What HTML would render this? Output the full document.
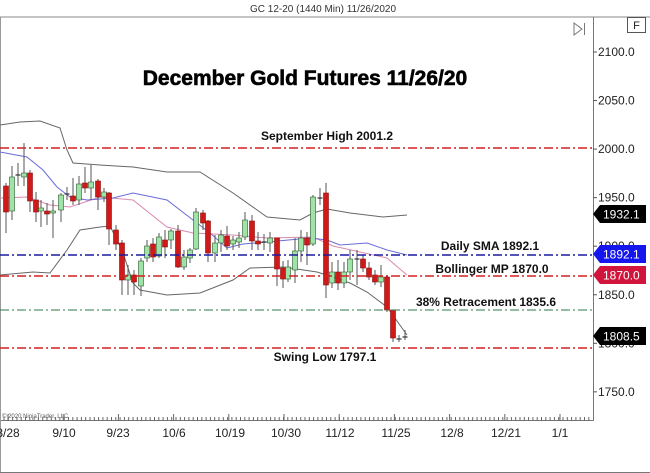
<!DOCTYPE html>
<html><head><meta charset="utf-8"><style>
html,body{margin:0;padding:0;background:#fff;}
svg{display:block;font-family:"Liberation Sans",Arial,sans-serif;}
</style></head><body>
<svg id="s" width="650" height="473" viewBox="0 0 650 473" xmlns="http://www.w3.org/2000/svg">
<rect x="0" y="0" width="650" height="473" fill="#fff"/>
<text x="323" y="12" font-size="10" text-anchor="middle" fill="#333">GC 12-20 (1440 Min)  11/26/2020</text>
<line x1="0" y1="17" x2="650" y2="17" stroke="#888" stroke-width="1"/>
<line x1="593.5" y1="17" x2="593.5" y2="421" stroke="#777" stroke-width="1"/>
<line x1="0" y1="420.5" x2="594" y2="420.5" stroke="#777" stroke-width="1"/>
<line x1="0.5" y1="17" x2="0.5" y2="473" stroke="#999"/>
<line x1="0" y1="472.5" x2="650" y2="472.5" stroke="#777"/>
<rect x="627.5" y="17.5" width="18" height="15" fill="#fff" stroke="#555"/>
<text x="636.5" y="29" font-size="11" text-anchor="middle" fill="#222">F</text>
<path d="M574 23 L582 29 L574 35 Z" fill="none" stroke="#777"/>
<line x1="584.5" y1="23" x2="584.5" y2="35" stroke="#777"/>
<text x="305" y="85" font-size="21" font-weight="bold" text-anchor="middle" fill="#000" stroke="#000" stroke-width="0.6">December Gold Futures 11/26/20</text>
<g id="axis" font-size="12" fill="#222"></g>
<g id="dates" font-size="12" fill="#222" text-anchor="middle">
<text x="8" y="437">8/28</text><text x="64" y="437">9/10</text><text x="118" y="437">9/23</text>
<text x="174" y="437">10/6</text><text x="230" y="437">10/19</text><text x="286" y="437">10/30</text>
<text x="340" y="437">11/12</text><text x="396" y="437">11/25</text><text x="452" y="437">12/8</text>
<text x="506" y="437">12/21</text><text x="560" y="437">1/1</text>
</g>
<text x="2" y="418" font-size="6" fill="#555">© 2020 NinjaTrader, LLC</text>
<g id="ticks" stroke="#666"></g>
<polyline fill="none" stroke="#666" stroke-width="1" points="0,125 20,122 40,121 60,128 67,150 73,163 100,165 133,167 167,172 200,172 233,193 267,217 300,220 313,213 327,209 350,213 383,217 407,215"/>
<polyline fill="none" stroke="#666" stroke-width="1" points="0,275 33,272 50,273 67,250 80,230 100,227 110,226 122,250 133,283 140,290 167,295 200,293 233,280 250,268 283,267 317,272 333,277 350,283 367,292 387,307 407,335"/>
<polyline fill="none" stroke="#d98ab0" stroke-width="1" points="0,198 27,197 50,205 70,207 100,197 133,200 167,227 193,233 233,235 267,238 313,237 333,246 360,252 387,258 407,275"/>
<polyline fill="none" stroke="#6a6ad8" stroke-width="1" points="0,152 27,157 43,170 57,187 70,197 87,200 113,198 133,193 167,200 193,220 210,233 227,248 243,244 267,242 310,238 327,240 340,245 367,243 387,250 407,255"/>
<g id="candles"></g>
<g stroke-width="1.5" stroke-dasharray="9,3,2,3" fill="none">
<line x1="0" y1="148" x2="592" y2="148" stroke="#d42020"/>
<line x1="0" y1="255" x2="592" y2="255" stroke="#1a1aa0"/>
<line x1="0" y1="276" x2="592" y2="276" stroke="#d42020"/>
<line x1="0" y1="310" x2="592" y2="310" stroke="#2f7a4a" stroke-width="1"/>
<line x1="0" y1="348" x2="592" y2="348" stroke="#d42020"/>
</g>
<g font-size="12" font-weight="bold" fill="#111" text-anchor="middle">
<text x="327" y="140">September High 2001.2</text>
<text x="490" y="250">Daily SMA 1892.1</text>
<text x="492" y="273">Bollinger MP 1870.0</text>
<text x="486" y="306">38% Retracement 1835.6</text>
<text x="325" y="361">Swing Low 1797.1</text>
</g>
<g id="tags" font-size="12"></g>
</svg>
<script>
const NS="http://www.w3.org/2000/svg";
function el(p,t,a,txt){const e=document.createElementNS(NS,t);for(const k in a)e.setAttribute(k,a[k]);if(txt)e.textContent=txt;document.getElementById(p).appendChild(e);return e;}
const Y=p=>52+(2100-p)*0.971;
[2100,2050,2000,1950,1900,1850,1800,1750].forEach(p=>{const y=Y(p);
 el('axis','line',{x1:593,y1:y,x2:597,y2:y,stroke:'#555'});
 el('axis','text',{x:598,y:y+4},p.toFixed(1));});
for(let x=4;x<592;x+=4.3){el('ticks','line',{x1:x,y1:417,x2:x,y2:421});}
for(let x=8;x<592;x+=55.2){el('ticks','line',{x1:x,y1:414,x2:x,y2:421});}
const C=[[6,186,212,183,233],[12,211,177,166,220],[18,175,175,163,186],[24,177,173,143,186],[30,173,201,170,212],[36,200,212,192,222],[41,211,208,200,227],[47,211,214,203,225],[53,213,211,200,238],[61,210,195,193,222],[67,194,194,187,200],[73,196,201,178,205],[79,200,184,176,205],[85,183,188,167,193],[91,188,182,165,200],[98,181,197,179,210],[104,197,192,188,202],[109,193,229,192,245],[116,230,244,225,250],[122,243,280,240,295],[128,280,275,265,295],[134,275,282,270,295],[141,286,261,258,296],[147,258,246,240,262],[153,244,257,238,262],[159,256,237,233,258],[165,240,247,230,258],[171,240,231,229,249],[178,231,267,225,268],[184,267,257,250,270],[190,258,250,248,263],[196,249,212,208,250],[203,213,223,210,230],[208,221,253,220,262],[215,253,243,235,262],[221,243,235,230,252],[227,236,246,226,250],[233,244,240,236,250],[239,242,238,232,248],[245,237,220,212,240],[252,221,241,215,250],[258,241,244,232,250],[264,242,242,234,250],[270,243,238,232,252],[277,238,269,238,286],[283,268,279,261,288],[288,279,267,260,282],[295,270,251,238,283],[301,251,238,230,262],[307,238,245,232,265],[313,244,197,195,246],[320,198,198,188,205],[326,193,285,183,298],[332,283,272,262,288],[338,272,283,260,290],[344,283,272,262,288],[350,272,259,250,280],[357,259,259,250,285],[363,259,268,255,272],[369,268,277,262,280],[375,275,282,270,285],[381,282,277,265,287],[387,277,310,275,312],[393,310,338,310,342],[399,339,339,335,342],[405,337,337,330,340]];
C.forEach(([x,o,c,h,l])=>{
 el('candles','line',{x1:x,y1:h,x2:x,y2:l,stroke:'#555','stroke-width':1});
 const up=c<o;const t=Math.min(o,c),b=Math.max(o,c);
 if(b-t<1.5){el('candles','line',{x1:x-2.5,y1:t,x2:x+2.5,y2:t,stroke:'#333','stroke-width':1.2});}
 else el('candles','rect',{x:x-2.5,y:t,width:5,height:b-t,fill:up?'#9fe3a8':'#d01a1a',stroke:up?'#2a5a2a':'#8a1010','stroke-width':0.6});
});
[[214,'1932.1','#000'],[254,'1892.1','#1515ee'],[275,'1870.0','#d0143c'],[336,'1808.5','#000']].forEach(([y,t,c])=>{
 el('tags','path',{d:`M593 ${y} L600 ${y-9} L646 ${y-9} L646 ${y+9} L600 ${y+9} Z`,fill:c});
 el('tags','text',{x:603,y:y+4.5,fill:'#fff'},t);
});
</script>
</body></html>
